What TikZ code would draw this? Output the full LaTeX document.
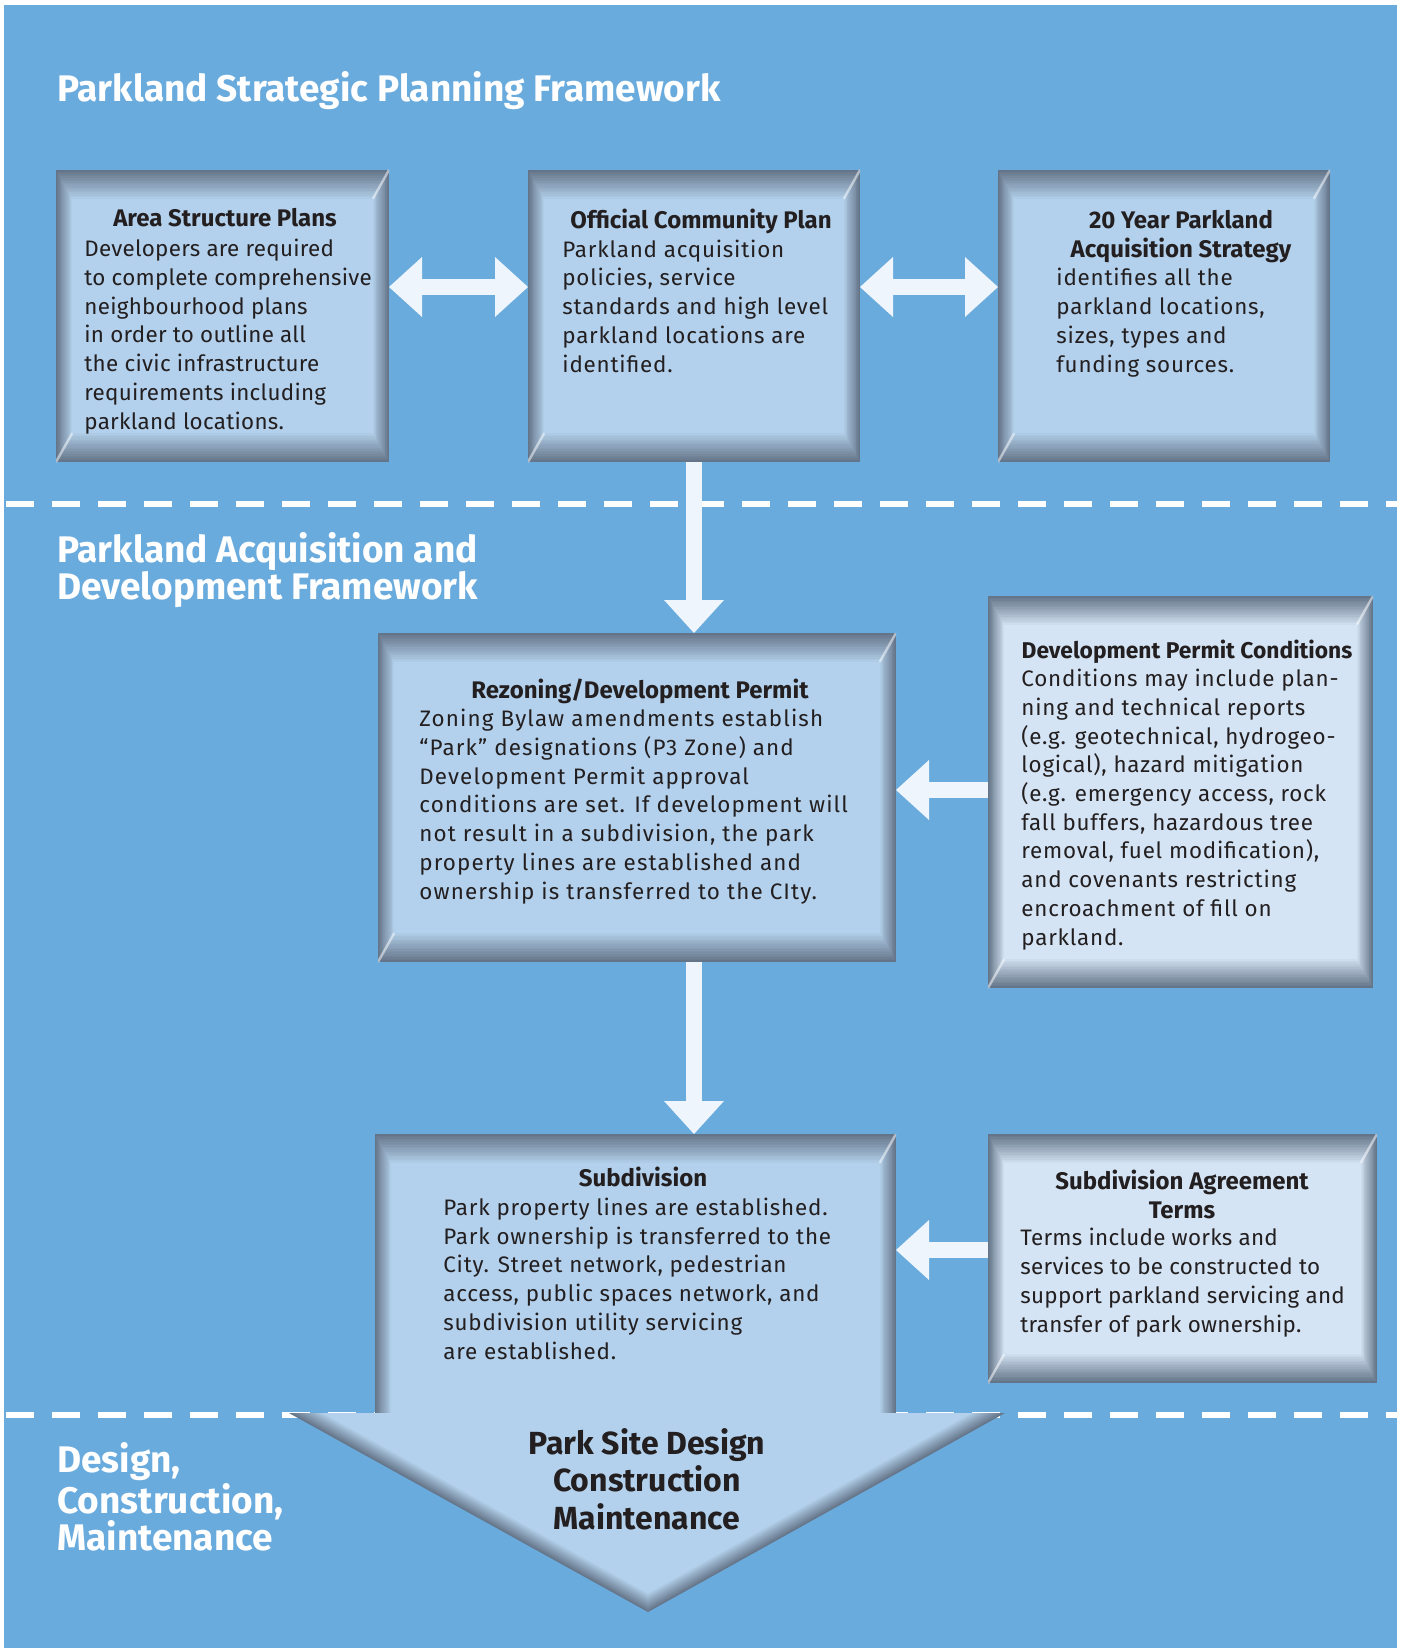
\documentclass[tikz,border=0pt]{standalone}
\usepackage{fontspec}
\setmainfont{Fira Sans}
\newfontfamily\trackfont{Fira Sans}[LetterSpace=3.5]
\newfontfamily\lighttrack{Fira Sans}[LetterSpace=1.2]
\newfontfamily\widetrack{Fira Sans}[LetterSpace=5]
\usetikzlibrary{arrows.meta,calc}

\definecolor{bgblue}{HTML}{6AABDD}
\definecolor{boxblue}{HTML}{B3D1EC}
\definecolor{boxpale}{HTML}{D4E4F4}
\definecolor{edgegray}{HTML}{657589}
\definecolor{flowwhite}{HTML}{EEF5FC}
\definecolor{ink}{HTML}{231F20}

\newcommand{\bodyfont}{\fontsize{11.2}{14.35}\selectfont}
\newcommand{\titlefont}{\fontsize{12}{14.35}\selectfont\bfseries}
\newcommand{\headfont}{\fontsize{18.5}{18.5}\selectfont\bfseries}
\newcommand{\bigfont}{\fontsize{16}{18.75}\selectfont\bfseries}

\tikzset{
  bevel/.style 2 args={path picture={
    \foreach \i [evaluate=\i as \p using int(100*(1-\i/18)^0.95)] in {0,...,18}
      \fill[edgegray!\p!#1] ([shift={(\i*0.45pt,-\i*0.8pt)}]path picture bounding box.north west)
        rectangle ([shift={(-\i*0.45pt,#2*\i*0.8pt)}]path picture bounding box.south east);
    \draw[white, opacity=.5, line width=1.2pt] (path picture bounding box.north east) -- ++(-8.1pt,-14.4pt);
    \draw[white, opacity=.5, line width=1.2pt] (path picture bounding box.south west) -- ++(#2*8.1pt,#2*14.4pt);
  }},
  panel/.style={rectangle, inner sep=0pt, outer sep=0pt, fill=#1, bevel={#1}{1}},
  panel/.default=boxblue,
  openpanel/.style={rectangle, inner sep=0pt, outer sep=0pt, fill=boxblue, bevel={boxblue}{0}},
  flow/.style={draw=flowwhite, line width=8pt, -{Triangle[length=16.5pt, width=30pt, line width=0pt]}},
  twoway/.style={draw=flowwhite, line width=8pt,
    {Triangle[length=16.5pt, width=30pt, line width=0pt]}-{Triangle[length=16.5pt, width=30pt, line width=0pt]}},
  boxtitle/.style={anchor=base, inner sep=0pt, align=center, text=ink, font=\titlefont},
  boxbody/.style={anchor=base west, inner sep=0pt, align=left, text=ink, font=\trackfont\bodyfont},
  heading/.style={anchor=base west, inner sep=0pt, align=left, text=white, font=\headfont},
  dashline/.style={white, line width=3pt, dash pattern=on 14pt off 9pt},
}

\begin{document}
\begin{tikzpicture}[x=0.5pt, y=-0.5pt]
  \useasboundingbox (0,0) rectangle (1406,1648);
  \fill[white] (0,0) rectangle (1406,1648);
  \fill[bgblue] (3.5,5) rectangle (1397,1648);
  \draw[dashline] (6,504) -- (1397,504);
  \draw[dashline] (6,1415) -- (1397,1415);

  % multi-line nodes sit on the baseline of their last line
  \node[heading] (h1) at (57,102) {Parkland Strategic Planning Framework};
  \node[heading] (h2) at (57,599) {Parkland Acquisition and\\Development Framework};
  \node[heading] (h3) at (57,1550) {Design,\\Construction,\\Maintenance};

  \node[panel, minimum width=166.5pt, minimum height=146pt] (asp) at (222.5,316) {};
  \node[panel, minimum width=166pt, minimum height=146pt] (ocp) at (694,316) {};
  \node[panel, minimum width=166pt, minimum height=146pt] (yps) at (1164,316) {};
  \node[panel, minimum width=259pt, minimum height=164.5pt] (rez) at (637,797.5) {};
  \node[panel=boxpale, minimum width=192.5pt, minimum height=196pt] (dpc) at (1180.5,792) {};
  \node[openpanel, minimum width=260.5pt, minimum height=139.5pt] (sub) at (635.5,1273.5) {};
  \node[panel=boxpale, minimum width=194.5pt, minimum height=124.5pt] (sat) at (1182.5,1258.5) {};

  \coordinate (tl) at (289,1413);
  \coordinate (tr) at (1005,1413);
  \coordinate (tip) at (648,1612);
  \coordinate (tc) at ($(tl)!.5!(tr)$);
  \foreach \i [evaluate=\i as \p using int(100*(1-\i/18)^0.95),
               evaluate=\i as \s using 1-\i*0.0052] in {0,...,18}
    \fill[edgegray!\p!boxblue] ($(tc)!\s!(tl)$) -- ($(tc)!\s!(tr)$) -- ($(tc)!\s!(tip)$) -- cycle;

  \draw[twoway] ([yshift=14.5pt]asp.east) -- ([yshift=14.5pt]ocp.west);
  \draw[twoway] ([yshift=14.5pt]ocp.east) -- ([yshift=14.5pt]yps.west);
  \draw[flow] (ocp.south) -- (ocp.south |- rez.north);
  \draw[flow] ([yshift=1pt]dpc.west) -- ([yshift=1pt]dpc.west -| rez.east);
  \draw[flow] (rez.south -| ocp.south) -- (sub.north -| ocp.south);
  \draw[flow] ([yshift=4.25pt]sat.west) -- ([yshift=4.25pt]sat.west -| sub.east);

  \node[boxtitle] (asp-h) at (225,227) {Area Structure Plans};
  \node[boxbody, font=\lighttrack\bodyfont] (asp-b) at (84,429) {Developers are required\\to complete comprehensive\\neighbourhood plans\\in order to outline all\\the civic infrastructure\\requirements including\\parkland locations.};
  \node[boxtitle] (ocp-h) at (701,228) {Official Community Plan};
  \node[boxbody] (ocp-b) at (562,372) {Parkland acquisition\\policies, service\\standards and high level\\parkland locations are\\identified.};
  \node[boxtitle] (yps-h) at (1181,257) {20 Year Parkland\\Acquisition Strategy};
  \node[boxbody] (yps-b) at (1056,372) {identifies all the\\parkland locations,\\sizes, types and\\funding sources.};

  \node[boxtitle] (rez-h) at (640,698) {Rezoning/Development Permit};
  \node[boxbody, font=\widetrack\bodyfont] (rez-b) at (419,899) {Zoning Bylaw amendments establish\\“Park” designations (P3 Zone) and\\Development Permit approval\\conditions are set. If development will\\not result in a subdivision, the park\\property lines are established and\\ownership is transferred to the CIty.};
  \node[boxtitle, font=\fontsize{11.4}{14.35}\selectfont\bfseries] (dpc-h) at (1187,658) {Development Permit Conditions};
  \node[boxbody] (dpc-b) at (1021,945) {Conditions may include plan-\\ning and technical reports\\(e.g. geotechnical, hydrogeo-\\logical), hazard mitigation\\(e.g. emergency access, rock\\fall buffers, hazardous tree\\removal, fuel modification),\\and covenants restricting\\encroachment of fill on\\parkland.};

  \node[boxtitle] (sub-h) at (643,1186) {Subdivision};
  \node[boxbody] (sub-b) at (443,1359) {Park property lines are established.\\Park ownership is transferred to the\\City. Street network, pedestrian\\access, public spaces network, and\\subdivision utility servicing\\are established.};
  \node[boxtitle] (sat-h) at (1182,1218) {Subdivision Agreement\\Terms};
  \node[boxbody, font=\lighttrack\bodyfont] (sat-b) at (1020,1332) {Terms include works and\\services to be constructed to\\support parkland servicing and\\transfer of park ownership.};

  \node[anchor=base, inner sep=0pt, align=center, text=ink, font=\bigfont] (psd) at (647,1529) {Park Site Design\\Construction\\Maintenance};
\end{tikzpicture}
\end{document}
